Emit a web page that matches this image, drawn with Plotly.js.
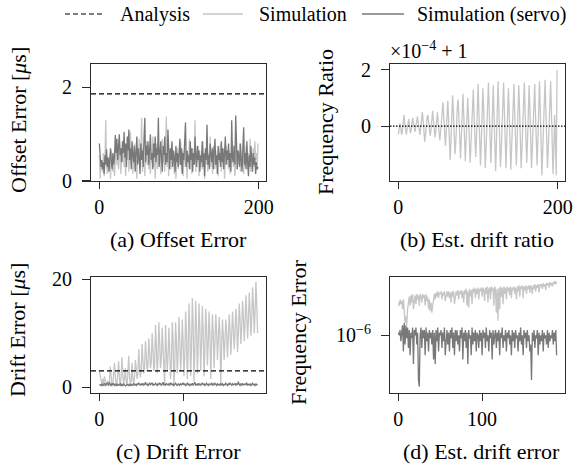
<!DOCTYPE html>
<html>
<head>
<meta charset="utf-8">
<script src="https://cdn.plot.ly/plotly-3.0.1.min.js"></script>
<style>html,body{margin:0;padding:0;background:#fff;}#chart{width:573px;height:465px;}</style>
</head>
<body>
<div id="chart"></div>
<script>
// ---------- DATA ----------
// (a) Offset error [us], samples 0..199
const offsetSim = [
0.55,0.05,0.40,0.30,0.20,0.60,0.10,0.45,1.30,0.35,
0.15,0.50,0.25,0.40,0.05,0.65,0.30,0.20,0.55,0.10,
0.45,0.80,0.35,0.60,0.25,0.90,0.50,0.15,0.70,0.40,
0.85,0.30,0.55,0.10,0.75,0.45,0.95,0.20,0.60,1.05,
0.35,0.70,0.15,0.55,0.80,0.25,0.45,0.05,0.65,0.40,
0.90,0.30,0.55,1.35,0.20,0.70,0.45,0.10,0.60,0.85,
0.35,0.50,0.25,0.75,0.15,0.55,0.40,0.95,0.30,0.60,
0.05,0.45,0.80,0.25,0.55,0.35,0.70,0.15,0.50,0.90,
0.40,0.60,0.20,0.75,1.38,0.30,0.55,0.10,0.65,0.45,
0.25,0.80,0.35,0.50,0.15,0.60,0.05,0.40,0.70,0.25,
0.55,0.35,0.85,0.20,0.65,0.10,0.45,0.75,0.30,0.50,
0.05,0.60,0.40,0.90,0.25,0.55,0.15,0.70,0.35,0.45,
1.30,0.20,0.60,0.40,0.75,0.10,0.50,0.30,0.65,0.25,
0.85,0.45,0.05,0.55,0.35,0.70,0.20,0.60,0.40,0.95,
0.30,0.50,0.15,0.75,0.45,0.25,0.65,0.35,0.55,0.10,
0.70,0.40,0.80,0.20,0.50,0.30,0.60,0.05,0.45,0.75,
0.35,0.55,0.25,0.65,0.15,0.50,0.40,0.85,0.30,0.60,
0.10,0.45,0.70,0.25,0.55,0.35,0.80,0.20,0.50,0.40,
0.65,0.15,0.55,0.30,0.75,0.45,0.25,0.60,0.35,0.90,
0.20,0.50,0.40,0.70,0.30,0.85,0.45,0.60,0.35,0.80];
const offsetServo = [
0.80,0.35,0.30,0.45,0.25,0.40,0.15,0.55,0.35,0.68,
0.30,0.50,0.20,0.45,0.70,0.40,0.25,0.60,0.35,0.55,
0.98,0.60,0.90,0.45,0.75,1.00,0.55,0.70,0.40,0.85,
0.60,1.05,0.50,0.80,0.30,0.95,0.65,1.10,0.45,0.70,
0.25,0.85,0.55,0.40,0.75,0.20,0.60,0.95,0.35,0.70,
0.50,0.15,0.80,0.45,0.65,0.30,0.90,1.35,0.40,0.75,
0.55,0.85,0.35,0.70,1.00,0.45,0.60,0.25,0.80,0.50,
0.95,0.40,0.70,0.55,1.35,0.30,0.65,0.85,0.45,0.20,
0.75,0.55,0.95,0.35,0.60,0.40,1.10,0.50,0.25,0.70,
0.45,0.85,0.30,0.65,0.50,0.20,0.75,0.40,0.60,0.30,
0.55,0.90,0.35,0.70,0.15,0.60,0.45,0.80,1.25,0.30,
0.65,0.40,0.55,0.25,0.85,0.45,0.70,0.20,0.60,0.35,
0.95,0.50,0.30,0.75,0.45,0.65,0.20,0.55,0.40,0.85,
0.30,0.60,0.10,0.70,0.45,1.20,0.35,0.55,0.25,0.80,
0.50,0.40,0.70,0.25,0.65,0.90,0.35,0.55,0.15,0.75,
0.45,0.60,0.30,0.85,0.40,0.70,0.25,0.55,0.95,0.35,
0.65,0.45,0.80,0.30,0.60,0.20,1.30,0.50,0.40,0.75,
0.35,1.40,0.45,0.25,0.65,0.55,0.30,0.80,0.45,0.20,
0.70,1.15,0.35,0.60,0.25,0.85,0.40,0.10,0.55,0.30,
0.75,0.45,0.20,0.60,0.35,0.50,0.15,0.40,0.25,0.30];
const offsetAnalysis = 1.86;

// (b) Estimated drift ratio, in units of 1e-4 around 1
const ratioSim = [
-0.3,-0.1,0.1,-0.05,-0.3,-0.2,
0.1,0.4,0.1,-0.15,-0.3,-0.1,
0.2,0.25,0.0,-0.25,-0.15,0.1,
0.3,0.1,-0.1,-0.2,0.0,0.2,
0.35,0.1,-0.15,-0.3,-0.05,0.2,
0.5,0.25,-0.2,-0.55,-0.3,0.05,0.3,
0.4,0.1,-0.2,-0.35,-0.1,0.25,
0.55,0.2,-0.2,-0.4,-0.15,0.3,
0.5,0.1,-0.3,-0.5,-0.2,0.2,0.45,
0.85,0.3,-0.3,-0.7,-0.2,0.4,
0.9,0.2,-0.6,-1.2,-0.5,0.3,
1.1,0.5,-0.3,-1.0,-0.6,0.2,0.7,
0.95,0.2,-0.6,-1.15,-0.4,0.4,
1.15,0.4,-0.5,-1.25,-0.5,0.4,
1.0,0.3,-0.6,-1.3,-0.7,0.1,0.8,
1.3,0.4,-0.5,-1.1,-0.4,0.5,
1.5,0.5,-0.6,-1.4,-0.6,0.5,
1.35,0.6,-0.4,-1.5,-0.8,0.2,0.9,
1.55,0.5,-0.6,-1.3,-0.5,0.6,
1.45,0.4,-0.7,-1.6,-0.6,0.5,
1.6,0.7,-0.4,-1.45,-0.9,0.1,0.9,
1.55,0.5,-0.6,-1.5,-0.5,0.6,
1.35,0.5,-0.5,-1.55,-0.8,0.2,0.8,
1.5,0.4,-0.6,-1.4,-0.5,0.6,
1.45,0.6,-0.5,-1.5,-0.8,0.1,0.9,
1.55,0.5,-0.5,-1.3,-0.5,0.6,
1.45,0.6,-0.5,-1.5,-0.8,0.2,0.9,
1.5,0.4,-0.6,-1.4,-0.5,0.6,
1.6,0.6,-0.6,-1.75,-0.9,0.2,1.0,
1.65,0.6,-0.5,-1.5,-0.8,0.3,1.1,
1.6,0.5,-0.7,-1.7,-0.8,0.4,-0.6,-1.75,2.0];
const ratioAnalysis = 0;

// (c) Drift error [us], samples 0..189
const driftSim = [
3.0,2.2,1.0,0.5,1.5,0.6,
2.0,0.8,0.3,0.4,1.2,0.2,
1.0,3.8,1.5,0.4,0.2,2.5,
4.5,2.0,0.3,0.5,3.0,4.8,
1.5,0.2,2.0,5.5,2.2,0.5,
1.8,3.5,1.0,0.3,2.5,5.8,
2.0,0.5,1.2,4.5,1.5,0.4,
2.0,5.0,3.5,1.5,2.5,7.0,
4.0,1.8,3.2,8.0,5.0,2.5,
3.5,8.5,6.0,3.0,4.0,9.0,
6.5,3.5,4.5,10.0,7.0,3.0,
4.0,11.5,8.0,2.5,5.0,12.0,
8.5,3.5,5.0,11.0,7.5,2.0,
0.5,11.5,8.0,3.0,5.5,11.0,
7.0,1.5,4.0,12.0,9.0,0.5,
3.5,12.0,8.5,2.5,6.0,13.0,
9.0,3.0,6.0,12.5,8.5,2.0,
5.5,14.0,10.0,1.5,6.0,15.5,
11.0,2.0,7.0,16.5,12.0,1.0,
6.5,16.0,11.5,2.5,7.5,15.5,
11.0,3.0,8.0,15.0,10.5,2.0,
7.0,14.5,11.0,4.0,8.0,14.0,
10.0,1.5,7.5,13.5,10.0,3.5,
8.0,13.5,10.5,5.0,8.5,13.0,
10.0,0.5,7.0,12.5,9.5,5.0,
8.5,12.5,10.0,5.5,9.0,13.5,
10.5,6.0,9.5,14.0,11.0,7.0,
10.0,14.5,12.0,6.5,10.0,15.5,
12.5,8.0,11.0,16.0,13.0,8.5,
12.0,17.0,13.5,9.0,12.5,17.5,
14.0,9.5,13.0,18.5,15.0,10.0,
14.5,19.5,15.0,10.0];
const driftServo = [
0.5,0.4,0.3,0.6,0.2,0.5,0.7,0.3,0.4,0.8,
0.5,0.3,0.9,0.4,0.2,0.6,0.5,0.7,0.3,0.4,
0.6,0.2,0.5,0.3,0.4,0.7,0.2,0.5,0.3,0.6,
0.4,0.2,0.3,0.5,0.4,0.3,0.6,0.2,0.5,0.4,
0.3,0.7,0.4,0.5,0.3,0.6,0.4,0.8,0.5,0.3,
0.6,0.4,0.7,0.3,0.5,0.9,0.4,0.6,0.3,0.5,
0.7,0.4,0.6,0.8,0.3,0.5,0.4,0.7,0.5,0.3,
0.6,0.4,0.8,0.5,0.3,0.6,0.9,0.4,0.5,0.3,
0.7,0.5,0.4,0.6,0.3,0.8,0.5,0.4,0.6,0.3,
0.5,0.7,0.4,0.3,0.6,0.5,0.3,0.7,0.4,0.5,
0.8,0.4,0.6,0.3,0.5,0.7,0.4,0.6,0.3,0.5,
0.4,0.7,0.3,0.6,0.9,0.4,0.5,0.3,0.7,0.4,
0.6,0.3,0.5,0.8,0.4,0.6,0.3,0.5,0.7,0.4,
0.3,0.6,0.4,0.5,0.8,0.3,0.6,0.4,0.7,0.5,
0.3,0.6,0.4,0.5,0.3,0.7,0.4,0.6,0.3,0.5,
0.4,0.7,0.5,0.3,0.6,0.4,0.8,0.5,0.3,0.6,
0.4,0.5,0.7,0.3,0.6,0.4,1.0,0.5,0.3,0.6,
0.4,0.7,0.3,0.5,0.6,0.4,0.8,0.3,0.5,0.4,
0.6,0.3,0.5,0.7,0.4,0.5,0.3,0.6,0.4,0.5];
const driftAnalysis = 3.0;

// (d) Estimated drift (frequency) error, in units of 1e-6
const freqErrSim = [
1.8,1.7,1.9,1.75,1.85,1.6,1.9,1.5,1.25,1.4,
1.2,1.6,1.9,2.0,1.7,2.05,1.8,2.1,1.6,1.95,
2.05,1.75,2.1,1.9,2.05,1.7,2.1,2.0,1.8,2.1,
1.95,2.05,1.7,2.1,1.85,2.0,1.6,1.9,1.55,1.8,
1.5,1.7,1.95,2.1,1.9,2.15,2.0,2.2,1.95,2.15,
2.1,2.2,1.9,2.15,2.05,2.2,1.85,2.1,2.2,2.0,
2.2,1.95,2.15,1.8,2.2,2.0,2.2,1.75,2.1,2.2,
2.05,2.25,1.9,2.2,2.1,2.25,1.95,2.2,1.8,2.25,
2.1,2.3,1.7,2.2,1.65,2.3,2.0,2.25,1.75,2.3,
2.15,2.35,1.95,2.3,2.1,2.35,1.9,2.3,2.2,2.35,
2.0,2.35,2.25,1.85,2.35,2.1,2.4,1.8,2.3,2.35,
1.9,2.4,2.2,2.35,1.7,2.4,2.25,1.5,2.3,1.3,
2.35,1.6,2.4,2.0,2.35,1.75,2.4,2.1,2.35,1.9,
2.4,2.2,2.35,2.05,2.4,1.95,2.35,2.25,2.4,2.1,
2.35,1.9,2.4,2.2,2.45,2.0,2.4,2.3,2.45,1.95,
2.4,2.25,2.45,2.1,2.4,2.3,2.45,2.15,2.45,2.35,
2.1,2.45,2.3,2.5,2.2,2.45,2.35,2.5,2.15,2.5,
2.4,2.5,2.3,2.55,2.4,2.5,2.25,2.55,2.45,2.55,
2.35,2.6,2.45,2.55,2.4,2.6,2.5,2.65,2.5,2.6];
const freqErrServo = [
1.05,1.0,1.1,0.9,1.05,1.2,0.75,1.25,0.85,1.2,
0.95,1.15,0.8,1.1,0.7,1.05,0.95,1.15,0.6,1.1,
1.0,1.15,0.85,1.05,0.45,0.4,1.0,1.15,0.8,1.1,
0.95,1.1,0.7,1.15,0.9,1.05,0.75,1.1,0.95,1.05,
0.85,1.1,0.65,1.05,0.6,1.1,0.9,1.15,0.75,1.05,
1.0,1.1,0.8,1.05,0.9,1.15,0.7,1.0,1.1,0.85,
1.05,0.75,1.1,0.95,1.15,0.8,1.05,0.7,1.1,0.9,
1.1,0.85,1.0,0.75,1.1,0.95,1.15,0.65,1.05,0.9,
1.1,0.8,1.05,0.6,1.1,0.95,1.0,0.7,1.15,0.85,
1.05,0.9,1.1,0.75,1.05,1.0,0.8,1.1,0.9,1.05,
0.7,1.1,0.95,1.05,0.8,1.15,0.9,1.0,0.75,1.1,
0.95,1.05,0.65,1.1,0.85,1.0,1.1,0.8,1.05,0.9,
1.1,0.7,1.05,0.95,1.15,0.8,1.0,0.9,1.1,0.75,
1.05,0.95,1.1,0.85,1.0,0.7,1.1,0.9,1.05,0.8,
1.1,0.95,1.0,0.75,1.05,0.9,1.15,0.85,1.0,0.7,
1.1,0.95,1.05,0.8,1.1,0.9,1.0,0.75,0.85,0.45,
1.05,0.9,1.1,0.8,1.0,0.95,1.1,0.7,1.05,0.85,
1.0,0.9,1.1,0.75,1.05,0.95,1.0,0.85,1.1,0.8,
1.05,0.9,1.0,0.95,1.1,0.85,1.05,0.9,1.1,0.7];

const seriesNames = ['Analysis', 'Simulation', 'Simulation (servo)'];
const captions = ['(a) Offset Error', '(b) Est. drift ratio', '(c) Drift Error', '(d) Est. drift error'];
const yTitles = ['Offset Error [<i>μ</i>s]', 'Frequency Ratio', 'Drift Error [<i>μ</i>s]', 'Frequency Error'];
const offsetText = '×10<sup>−4</sup> + 1';

// ---------- STYLE ----------
const FONT = 'Liberation Serif, Times New Roman, serif';
const LIGHT = '#c6c6c6';
const DARK = '#787878';
const FRAME = '#2a2a2a';
const idx = arr => arr.map((_, i) => i);
const micro = arr => arr.map(v => v * 1e-6);

const xRanges = [[-10.5, 209], [-10.5, 209], [-10, 199], [-10, 199]];
const seriesStyle = [
  {color: '#000', width: 1.2, dash: '5px,3px'},
  {color: LIGHT, width: 1.3, dash: 'solid'},
  {color: DARK, width: 1.3, dash: 'solid'}
];

function line(x, y, xa, ya, k, name, dashOverride) {
  const s = seriesStyle[k];
  return {
    type: 'scatter', mode: 'lines', x: x, y: y, xaxis: xa, yaxis: ya,
    name: name, showlegend: false,
    line: {color: s.color, width: s.width, dash: dashOverride || s.dash},
    hoverinfo: 'skip'
  };
}

const traces = [
  line(idx(offsetSim), offsetSim, 'x', 'y', 1, seriesNames[1]),
  line(idx(offsetServo), offsetServo, 'x', 'y', 2, seriesNames[2]),
  line(xRanges[0], [offsetAnalysis, offsetAnalysis], 'x', 'y', 0, seriesNames[0]),

  line(idx(ratioSim), ratioSim, 'x2', 'y2', 1, seriesNames[1]),
  line(xRanges[1], [ratioAnalysis, ratioAnalysis], 'x2', 'y2', 0, seriesNames[0], '1.5px,1.5px'),

  line(idx(driftSim), driftSim, 'x3', 'y3', 1, seriesNames[1]),
  line(idx(driftServo), driftServo, 'x3', 'y3', 2, seriesNames[2]),
  line(xRanges[2], [driftAnalysis, driftAnalysis], 'x3', 'y3', 0, seriesNames[0]),

  line(idx(freqErrSim), micro(freqErrSim), 'x4', 'y4', 1, seriesNames[1]),
  line(idx(freqErrServo), micro(freqErrServo), 'x4', 'y4', 2, seriesNames[2])
];

const W = 573, H = 465;
const px = v => v / W;
const py = v => 1 - v / H;

function baseAxis(domain, range, tickvals, anchor, len, standoff) {
  return {
    domain: domain, range: range, anchor: anchor, tickvals: tickvals,
    showline: true, mirror: true, linecolor: FRAME, linewidth: 1.1,
    ticks: 'outside', ticklen: len, tickwidth: 1.1, tickcolor: FRAME,
    showgrid: false, zeroline: false, ticklabelstandoff: standoff,
    tickfont: {family: FONT, size: 20, color: '#000'}, fixedrange: true
  };
}
const xAxis = (d, r, t, a) => baseAxis(d, r, t, a, 7, 1);
function yAxis(d, r, t, a, type, ticktext) {
  const ax = baseAxis(d, r, t, a, 8, 6);
  if (type) ax.type = type;
  if (ticktext) ax.ticktext = ticktext;
  return ax;
}

const colL = [px(91), px(266)], colR = [px(390), px(565)];
const rowT = [py(181), py(64)], rowB = [py(393), py(277)];

const ann = [];
const shapes = [];
const capPos = [[178, 239], [477, 239], [178, 451], [481, 451]];
captions.forEach((c, i) => ann.push({
  text: c, xref: 'paper', yref: 'paper', x: px(capPos[i][0]), y: py(capPos[i][1]),
  xanchor: 'center', yanchor: 'middle', showarrow: false,
  font: {family: FONT, size: 22, color: '#000'}
}));
const ytPos = [[18, 120], [325, 122], [17, 330], [298, 333]];
yTitles.forEach((t, i) => ann.push({
  text: t, xref: 'paper', yref: 'paper', x: px(ytPos[i][0]), y: py(ytPos[i][1]),
  xanchor: 'center', yanchor: 'middle', showarrow: false, textangle: -90,
  font: {family: FONT, size: 22, color: '#000'}
}));
ann.push({
  text: offsetText, xref: 'paper', yref: 'paper', x: px(388), y: py(50),
  xanchor: 'left', yanchor: 'middle', showarrow: false,
  font: {family: FONT, size: 20, color: '#000'}
});

// legend (top row): sample line + label for each series
const legSample = [[65, 104], [203, 243], [362, 404]];
const legText = [118, 257, 415];
seriesNames.forEach((n, k) => {
  const s = seriesStyle[k];
  shapes.push({
    type: 'line', xref: 'paper', yref: 'paper',
    x0: px(legSample[k][0]), x1: px(legSample[k][1]), y0: py(14), y1: py(14),
    line: {color: s.color, width: s.width, dash: s.dash}
  });
  ann.push({
    text: n, xref: 'paper', yref: 'paper', x: px(legText[k]), y: py(14),
    xanchor: 'left', yanchor: 'middle', showarrow: false,
    font: {family: FONT, size: 20, color: '#000'}
  });
});

const layout = {
  width: W, height: H,
  margin: {l: 0, r: 0, t: 0, b: 0},
  paper_bgcolor: '#fff', plot_bgcolor: '#fff',
  font: {family: FONT, size: 20, color: '#000'},
  showlegend: false,
  xaxis: xAxis(colL, xRanges[0], [0, 200], 'y'),
  yaxis: yAxis(rowT, [0, 2.5], [0, 2], 'x'),
  xaxis2: xAxis(colR, xRanges[1], [0, 200], 'y2'),
  yaxis2: yAxis(rowT, [-1.95, 2.21], [0, 2], 'x2'),
  xaxis3: xAxis(colL, xRanges[2], [0, 100], 'y3'),
  yaxis3: yAxis(rowB, [-1.1, 20.4], [0, 20], 'x3'),
  xaxis4: xAxis(colR, xRanges[3], [0, 100], 'y4'),
  yaxis4: yAxis(rowB, [-6.448, -5.546], [1e-6], 'x4', 'log', ['10<sup>−6</sup>']),
  annotations: ann,
  shapes: shapes
};

Plotly.newPlot('chart', traces, layout, {staticPlot: true, displayModeBar: false});
</script>
</body>
</html>
